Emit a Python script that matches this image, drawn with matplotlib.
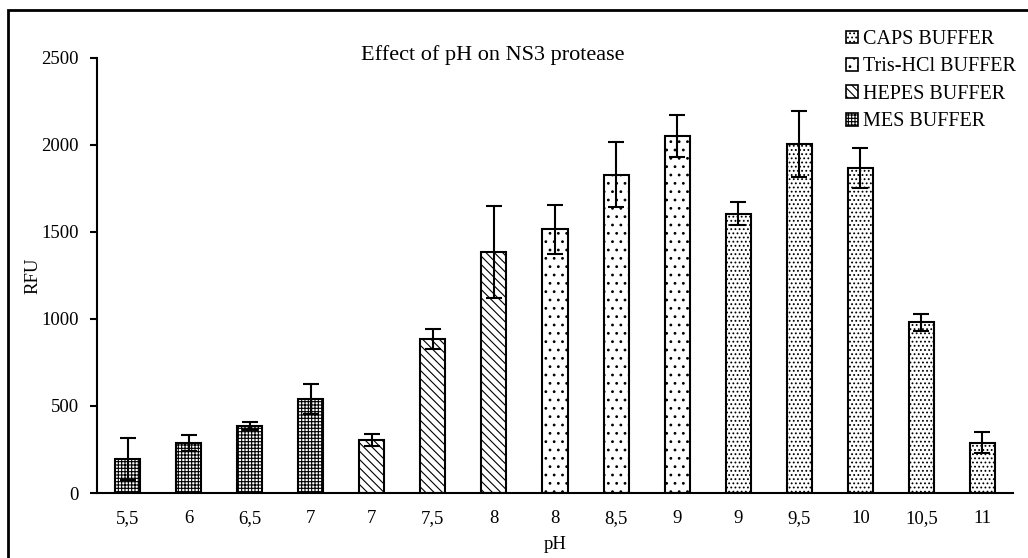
import matplotlib
matplotlib.use("Agg")
import matplotlib.pyplot as plt
from matplotlib.patches import Patch, Rectangle

plt.rcParams['font.family'] = ['Liberation Serif', 'DejaVu Serif']
plt.rcParams['hatch.linewidth'] = 0.8

labels = ["5,5", "6", "6,5", "7", "7", "7,5", "8", "8", "8,5", "9", "9", "9,5", "10", "10,5", "11"]
values = [195, 287, 385, 540, 305, 885, 1385, 1515, 1830, 2050, 1605, 2005, 1870, 980, 290]
errors = [122, 45, 25, 88, 35, 55, 265, 140, 185, 120, 65, 190, 115, 50, 62]
buffers = ["MES", "MES", "MES", "MES", "HEPES", "HEPES", "HEPES", "Tris", "Tris", "Tris",
           "CAPS", "CAPS", "CAPS", "CAPS", "CAPS"]
legend_order = ["CAPS", "Tris", "HEPES", "MES"]
legend_names = {"CAPS": "CAPS BUFFER", "Tris": "Tris-HCl BUFFER", "HEPES": "HEPES BUFFER", "MES": "MES BUFFER"}
hatches = {"MES": "+++++", "HEPES": "\\\\\\\\", "Tris": "..", "CAPS": "...."}

fig = plt.figure(figsize=(10.28, 5.58), dpi=100)
ax = fig.add_axes([97/1028, 1 - 493/558, (1013-97)/1028, (493-58)/558])

x = list(range(len(values)))
for i in x:
    ax.bar(i, values[i], width=0.41, facecolor="white", edgecolor="black",
           linewidth=1.5, hatch=hatches[buffers[i]], zorder=2)
ax.errorbar(x, values, yerr=errors, fmt="none", ecolor="black", elinewidth=1.5,
            capsize=6, capthick=1.5, zorder=3)

ax.set_xlim(-0.5, len(values) - 0.5)
ax.set_ylim(0, 2500)
ax.set_yticks([0, 500, 1000, 1500, 2000, 2500])
ax.set_xticks(x)
ax.set_xticklabels(labels)
ax.tick_params(axis="x", length=0, pad=12, labelsize=13.5)
ax.tick_params(axis="y", length=5, width=1.5, direction="out", labelsize=13.5, pad=8)
ax.spines["top"].set_visible(False)
ax.spines["right"].set_visible(False)
ax.spines["left"].set_linewidth(1.5)
ax.spines["bottom"].set_linewidth(1.5)

ax.set_ylabel("RFU", fontsize=13.5, labelpad=0)
ax.set_xlabel("pH", fontsize=13.5, labelpad=7)
fig.text(493/1028, 1 - 55/558, "Effect of pH on NS3 protease", fontsize=16,
         ha="center", va="center")

handles = [Patch(facecolor="white", edgecolor="black", linewidth=1.2, hatch=hatches[b],
                 label=legend_names[b]) for b in legend_order]
fig.legend(handles=handles, loc="upper left", bbox_to_anchor=(846/1028, 1 - 30/558),
           frameon=False, fontsize=14.5, handlelength=0.6, handleheight=0.6,
           handletextpad=0.25, labelspacing=0.42, borderaxespad=0, borderpad=0)

fig.patches.append(Rectangle((8/1028, -0.1), 1.2, 1 - 10/558 + 0.1,
                             transform=fig.transFigure, fill=False,
                             edgecolor="black", linewidth=2))

fig.savefig("out.png", dpi=100)
